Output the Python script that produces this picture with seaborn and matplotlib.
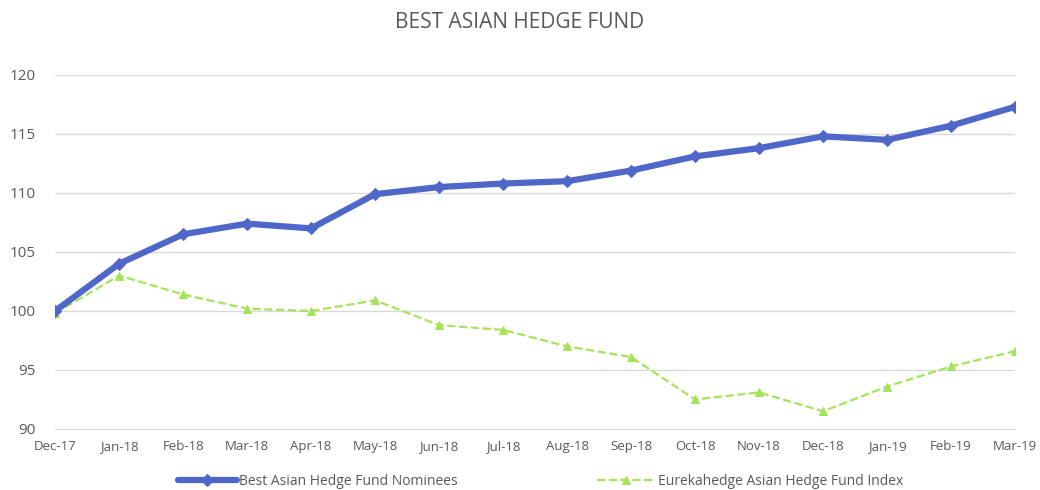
import pandas as pd
import seaborn as sns
import matplotlib.pyplot as plt

# Chart data
months = ['Dec-17', 'Jan-18', 'Feb-18', 'Mar-18', 'Apr-18', 'May-18', 'Jun-18', 'Jul-18',
          'Aug-18', 'Sep-18', 'Oct-18', 'Nov-18', 'Dec-18', 'Jan-19', 'Feb-19', 'Mar-19']
nominees = [100.0, 104.0, 106.5, 107.4, 107.0, 109.9, 110.5, 110.8,
            111.0, 111.9, 113.1, 113.8, 114.8, 114.5, 115.7, 117.3]
index_vals = [99.8, 103.0, 101.4, 100.2, 100.0, 100.9, 98.8, 98.4,
              97.0, 96.1, 92.5, 93.1, 91.5, 93.6, 95.3, 96.6]

df = pd.DataFrame({'month': months, 'pos': range(len(months)),
                   'nominees': nominees, 'index': index_vals})

sns.set_style('white')
plt.rcParams['font.family'] = ['Open Sans', 'DejaVu Sans']

fig = plt.figure(figsize=(10.4, 4.9), dpi=100)
ax = fig.add_axes([0.053, 0.1245, 0.923, 0.7225])

text_col = '#595959'
blue = '#4F67C8'
green = '#A6E35A'

sns.lineplot(data=df, x='pos', y='nominees', ax=ax, color=blue, linewidth=4.5,
             marker='D', markersize=10.5, markeredgecolor=blue,
             label='Best Asian Hedge Fund Nominees', zorder=3)
sns.lineplot(data=df, x='pos', y='index', ax=ax, color=green, linewidth=1.6,
             linestyle='--', marker='^', markersize=9.5, markeredgecolor=green,
             label='Eurekahedge Asian Hedge Fund Index', zorder=2)

ax.set_xlim(0, len(months) - 1)
ax.set_ylim(90, 120)
ax.set_yticks(range(90, 121, 5))
ax.set_xticks(df['pos'])
ax.set_xticklabels(months)
ax.set_xlabel('')
ax.set_ylabel('')

ax.yaxis.grid(True, color='#D9D9D9', linewidth=1)
for s in ['top', 'right', 'left']:
    ax.spines[s].set_visible(False)
ax.spines['bottom'].set_color('#D9D9D9')
ax.tick_params(axis='y', length=0, labelsize=11, labelcolor=text_col, pad=14)
ax.tick_params(axis='x', length=5, color='#D9D9D9', labelsize=9.5, labelcolor=text_col, pad=3)

fig.suptitle('BEST ASIAN HEDGE FUND', y=0.975, fontsize=15, color=text_col)

handles, labels = ax.get_legend_handles_labels()
for h in handles:
    h.set_markersize(6)
ax.legend_.remove()
fig.legend(handles, labels, loc='lower center', bbox_to_anchor=(0.52, -0.015), ncol=2,
           frameon=False, fontsize=10, labelcolor=text_col, columnspacing=10,
           handlelength=4.2, handletextpad=0.2, borderpad=0.1)

plt.savefig('out.png', dpi=100)
